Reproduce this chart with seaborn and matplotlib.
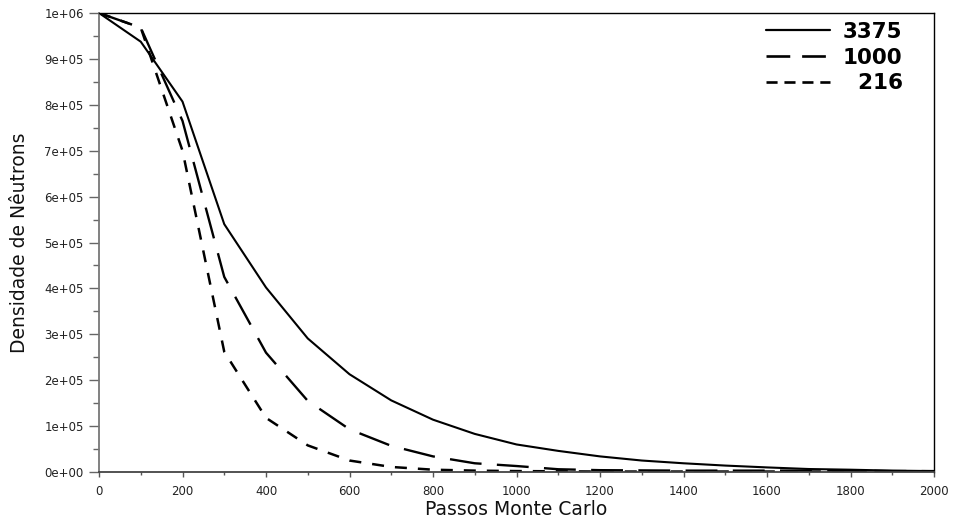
import numpy as np
import pandas as pd
import matplotlib
matplotlib.use("Agg")
import matplotlib.pyplot as plt
from matplotlib.ticker import MultipleLocator, FuncFormatter
from matplotlib.lines import Line2D
import seaborn as sns

# ---- data ----
passos = [0, 100, 200, 300, 400, 500, 600, 700, 800, 900, 1000,
          1100, 1200, 1300, 1400, 1500, 1600, 1700, 1800, 1900, 2000]
dens_3375 = [1.0e6, 9.375e5, 8.07e5, 5.40e5, 4.02e5, 2.91e5, 2.13e5, 1.56e5,
             1.14e5, 8.3e4, 6.0e4, 4.6e4, 3.4e4, 2.5e4, 1.9e4, 1.4e4, 1.0e4,
             6.5e3, 5.0e3, 3.0e3, 2.0e3]
dens_1000 = [1.0e6, 9.68e5, 7.65e5, 4.25e5, 2.60e5, 1.55e5, 9.3e4, 5.7e4,
             3.4e4, 1.9e4, 1.3e4, 6.0e3, 4.0e3, 3.5e3, 3.0e3, 3.0e3, 3.0e3,
             3.0e3, 3.0e3, 2.0e3, 2.0e3]
dens_216 = [1.0e6, 9.68e5, 7.00e5, 2.62e5, 1.18e5, 5.8e4, 2.5e4, 1.1e4,
            5.0e3, 3.0e3, 2.0e3, 1.5e3, 1.0e3, 1.0e3, 1.0e3, 1.0e3, 1.0e3,
            1.0e3, 1.0e3, 1.0e3, 1.0e3]
series_names = ["3375", "1000", "216"]
legend_labels = ["3375", "1000", "\u2007216"]
x_label = "Passos Monte Carlo"
y_label = "Densidade de Nêutrons"

df = pd.concat([
    pd.DataFrame({"passos": passos, "dens": d, "N": n})
    for n, d in zip(series_names, [dens_3375, dens_1000, dens_216])
], ignore_index=True)

sns.set_theme(style="white")
plt.rcParams["font.family"] = ["DejaVu Sans"]

W, H = 956, 521
fig = plt.figure(figsize=(W / 100, H / 100), dpi=100)
ax = fig.add_axes([99 / W, 1 - 472 / H, 835 / W, 459 / H])

dash_map = {"3375": "", "1000": (13.5, 6.5), "216": (4.8, 4.4)}
lw_map = {"3375": 1.5, "1000": 1.7, "216": 1.8}
sns.lineplot(data=df, x="passos", y="dens", style="N", style_order=series_names,
             dashes=dash_map, color="black", legend=False, ax=ax,
             estimator=None, sort=False)
for line, n in zip(ax.lines, series_names):
    line.set_linewidth(lw_map[n])
    line.set_solid_capstyle("butt")
    line.set_dash_capstyle("butt")

ax.set_xlim(0, 2000)
ax.set_ylim(0, 1.0e6)
ax.xaxis.set_major_locator(MultipleLocator(200))
ax.xaxis.set_minor_locator(MultipleLocator(100))
ax.yaxis.set_major_locator(MultipleLocator(1e5))
ax.yaxis.set_minor_locator(MultipleLocator(5e4))
ax.yaxis.set_major_formatter(FuncFormatter(lambda v, p: f"{v:.0e}"))

ax.tick_params(axis="x", which="major", direction="out", length=3.4, width=1,
               color="#555555", labelsize=8.5, labelcolor="#222222", pad=6,
               bottom=True)
ax.tick_params(axis="x", which="minor", direction="out", length=2.0, width=1,
               color="#555555", bottom=True)
ax.tick_params(axis="y", which="major", direction="out", length=7, width=1,
               color="#666666", labelsize=8.5, labelcolor="#222222", pad=4,
               left=True)
ax.tick_params(axis="y", which="minor", direction="out", length=4, width=1,
               color="#666666", left=True)

for side in ["top", "right"]:
    ax.spines[side].set_color("black")
    ax.spines[side].set_linewidth(1.0)
ax.spines["left"].set_color("#777777")
ax.spines["left"].set_linewidth(1.3)
ax.spines["bottom"].set_color("#444444")
ax.spines["bottom"].set_linewidth(1.3)
ax.grid(False)

ax.set_xlabel(x_label, fontsize=13.5, color="#111111", va="baseline")
ax.set_ylabel(y_label, fontsize=13.5, color="#111111")
ax.xaxis.set_label_coords(0.5, -(515 - 472) / 459)
ax.yaxis.set_label_coords(-(99 - 29) / 835, 0.5)

handles = [
    Line2D([], [], color="black", lw=1.6, linestyle="-"),
    Line2D([], [], color="black", lw=1.9, dashes=(9.0, 4.5)),
    Line2D([], [], color="black", lw=1.9, dashes=(4.2, 2.6)),
]
leg = ax.legend(handles, legend_labels, loc="upper left",
                bbox_to_anchor=(766 / W, 1 - 22 / H),
                bbox_transform=fig.transFigure, frameon=False,
                prop={"size": 15.5, "weight": "bold", "family": "DejaVu Sans"},
                handlelength=2.95, handletextpad=0.62, labelspacing=0.26,
                borderpad=0, borderaxespad=0, labelcolor="black")

fig.savefig("out.png", dpi=100, facecolor="white")
